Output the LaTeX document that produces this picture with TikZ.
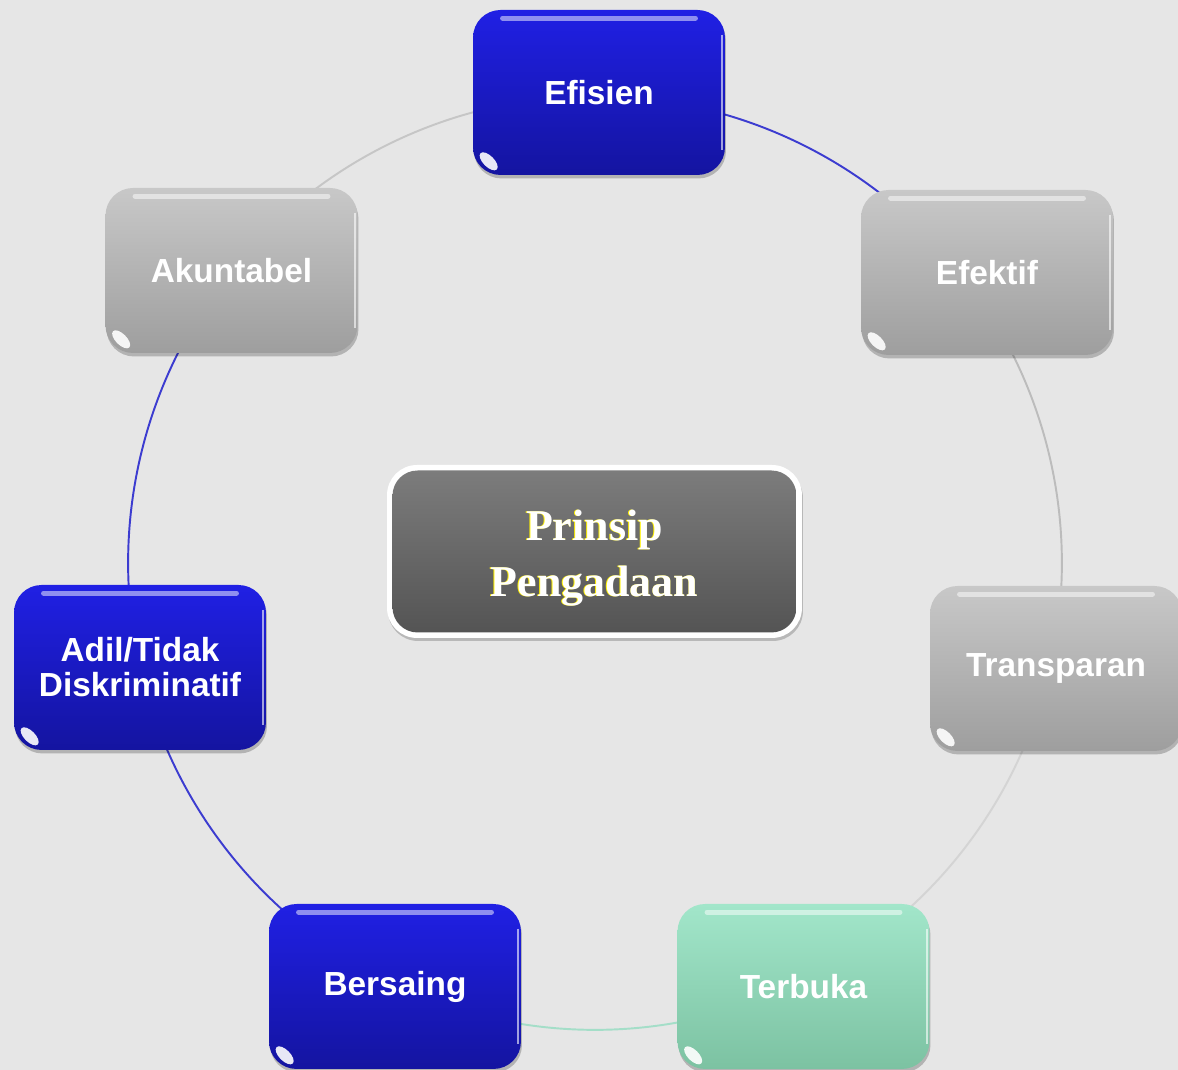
\documentclass[tikz,border=0pt]{standalone}
\usepackage{fontspec}
\setmainfont{Liberation Sans}
\newfontfamily\serifbold{Liberation Serif}
\usetikzlibrary{shadows,calc}
\definecolor{bg}{RGB}{230,230,230}
\definecolor{blueT}{RGB}{32,32,228}
\definecolor{blueB}{RGB}{20,20,160}
\definecolor{grayT}{RGB}{200,200,200}
\definecolor{grayB}{RGB}{158,158,158}
\definecolor{greenT}{RGB}{162,230,202}
\definecolor{greenB}{RGB}{124,194,162}
\definecolor{ctrT}{RGB}{124,124,124}
\definecolor{ctrB}{RGB}{84,84,84}
\definecolor{arcB}{RGB}{60,60,208}
\definecolor{arcG}{RGB}{188,188,188}
\definecolor{arcL}{RGB}{212,212,212}
\definecolor{arcM}{RGB}{164,222,200}
\definecolor{arcH}{RGB}{198,198,198}
\newcommand\glowtext[1]{\leavevmode\rlap{\kern-0.016cm\textcolor{yellow}{#1}}\textcolor{white}{#1}}
\tikzset{
  cbox/.style={rounded corners=0.55cm, minimum width=5.04cm, minimum height=3.3cm,
    text=white, font=\bfseries\fontsize{19}{20}\selectfont, align=center,
    drop shadow={shadow xshift=0.02cm, shadow yshift=-0.07cm, opacity=0.22, fill=black}},
  bluebox/.style={cbox, top color=blueT, bottom color=blueB},
  graybox/.style={cbox, top color=grayT, bottom color=grayB},
  greenbox/.style={cbox, top color=greenT, bottom color=greenB},
  arcline/.style={line width=1.1pt},
}
\begin{document}
\begin{tikzpicture}[x=0.02cm,y=0.02cm]
\useasboundingbox (0,0) rectangle (1178,1070);
\clip (0,0) rectangle (1178,1070);
\fill[bg] (0,0) rectangle (1178,1070);
\coordinate (ctr) at (595,507);
\foreach \k in {0,...,6}{
  \path (ctr) ++({90-51.4286*\k}:9.34cm) coordinate (p\k);
}
\foreach \k/\c in {0/arcB,1/arcG,2/arcL,3/arcM,4/arcB,5/arcB,6/arcH}{
  \draw[arcline,\c] (p\k) arc[start angle={90-51.4286*\k}, end angle={90-51.4286*(\k+1)}, radius=9.34cm];
}
\node[bluebox]  (efisien)    at (599,977.5) {Efisien};
\node[graybox]  (efektif)    at (987,797.5) {Efektif};
\node[graybox]  (transparan) at (1056,401.5) {Transparan};
\node[greenbox] (terbuka)    at (803.5,83.5) {Terbuka};
\node[bluebox]  (bersaing)   at (395,83.5) {Bersaing};
\node[bluebox]  (adil)       at (140,402.5) {Adil/Tidak\\Diskriminatif};
\node[graybox]  (akuntabel)  at (231.5,799.5) {Akuntabel};
\foreach \n in {efisien,efektif,transparan,terbuka,bersaing,adil,akuntabel}{
  \draw[white,opacity=.5,line width=3pt,line cap=round]
    ([shift={(0.6cm,-0.17cm)}]\n.north west) -- ([shift={(-0.6cm,-0.17cm)}]\n.north east);
  \draw[white,opacity=.6,line width=1pt]
    ([shift={(-0.06cm,-0.5cm)}]\n.north east) -- ([shift={(-0.06cm,0.5cm)}]\n.south east);
  \coordinate (g) at ([shift={(0.32cm,0.28cm)}]\n.south west);
  \fill[white,opacity=.9,rotate around={-45:(g)}] (g) ellipse [x radius=0.23cm, y radius=0.11cm];
}
\node[rounded corners=0.6cm, fill=white, minimum width=8.3cm, minimum height=3.46cm,
  drop shadow={shadow xshift=0.02cm, shadow yshift=-0.06cm, opacity=0.2, fill=black}] (frame) at (594.5,518.5) {};
\node[rounded corners=0.5cm, top color=ctrT, bottom color=ctrB, minimum width=8.08cm, minimum height=3.24cm] (prinsip) at (frame.center) {};
\node[font=\serifbold\bfseries\fontsize{25}{32}\selectfont, align=center] (prinsiptext) at ([yshift=-0.14cm]prinsip.center)
  {\glowtext{Prinsip}\\\glowtext{Pengadaan}};
\end{tikzpicture}
\end{document}
